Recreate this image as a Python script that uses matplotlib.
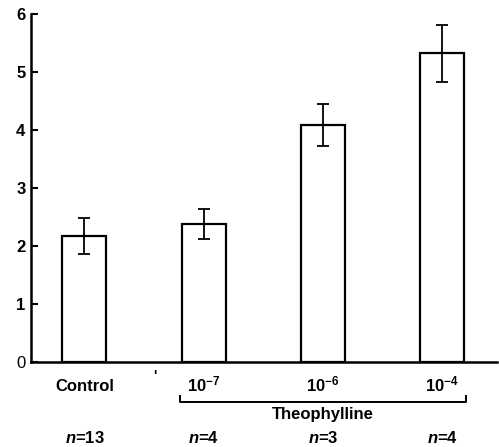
import matplotlib
matplotlib.use("Agg")
import matplotlib.pyplot as plt
import numpy as np

plt.rcParams["font.family"] = ["Liberation Sans", "DejaVu Sans"]
plt.rcParams["mathtext.fontset"] = "custom"
plt.rcParams["mathtext.rm"] = "Liberation Sans:bold"
plt.rcParams["mathtext.it"] = "Liberation Sans:italic:bold"

# Data
groups = ["Control", "10$^{-7}$", "10$^{-6}$", "10$^{-4}$"]
means = [2.17, 2.38, 4.09, 5.33]
errors = [0.31, 0.26, 0.37, 0.49]
n_labels = ["$n$=13", "$n$=4", "$n$=3", "$n$=4"]
y_ticks = [0, 1, 2, 3, 4, 5, 6]

fig = plt.figure(figsize=(4.99, 4.47), dpi=100)
ax = fig.add_axes([0.062, 0.190, 0.934, 0.778])

x = np.arange(len(means))
ax.bar(x, means, width=0.37, color="white", edgecolor="black", linewidth=1.6)
ax.errorbar(x, means, yerr=errors, fmt="none", ecolor="black",
            elinewidth=1.3, capsize=4.5, capthick=1.3)

ax.set_xlim(-0.448, 3.458)
ax.set_ylim(0, 6)
ax.set_yticks(y_ticks)
ax.tick_params(axis="y", direction="in", length=5, width=1.5, pad=4,
               labelsize=12)
for lbl in ax.get_yticklabels()[1:]:
    lbl.set_fontweight("bold")
ax.set_xticks([])

for side in ["top", "right"]:
    ax.spines[side].set_visible(False)
ax.spines["left"].set_linewidth(1.8)
ax.spines["bottom"].set_linewidth(1.8)

trans = ax.get_xaxis_transform()

# group labels under the bars
for xi, g in zip(x, groups):
    ax.text(xi, -0.084, g, transform=trans, ha="center", va="baseline",
            fontsize=12, fontweight="bold", clip_on=False)

# stray mark from the original print
ax.text(0.59, -0.052, "'", transform=trans, ha="center", va="baseline",
        fontsize=10, fontweight="bold", clip_on=False)

# bracket grouping the theophylline doses
bx0, bx1 = x[1] - 0.2, x[3] + 0.2
ax.plot([bx0, bx0, bx1, bx1], [-0.097, -0.114, -0.114, -0.097],
        transform=trans, color="black", lw=1.4, clip_on=False)
ax.text((bx0 + bx1) / 2, -0.163, "Theophylline", transform=trans,
        ha="center", va="baseline", fontsize=12, fontweight="bold",
        clip_on=False)

# sample sizes
for xi, n in zip(x, n_labels):
    ax.text(xi, -0.232, n, transform=trans, ha="center", va="baseline",
            fontsize=12, fontweight="bold", clip_on=False)

fig.savefig("out.png", dpi=100)
